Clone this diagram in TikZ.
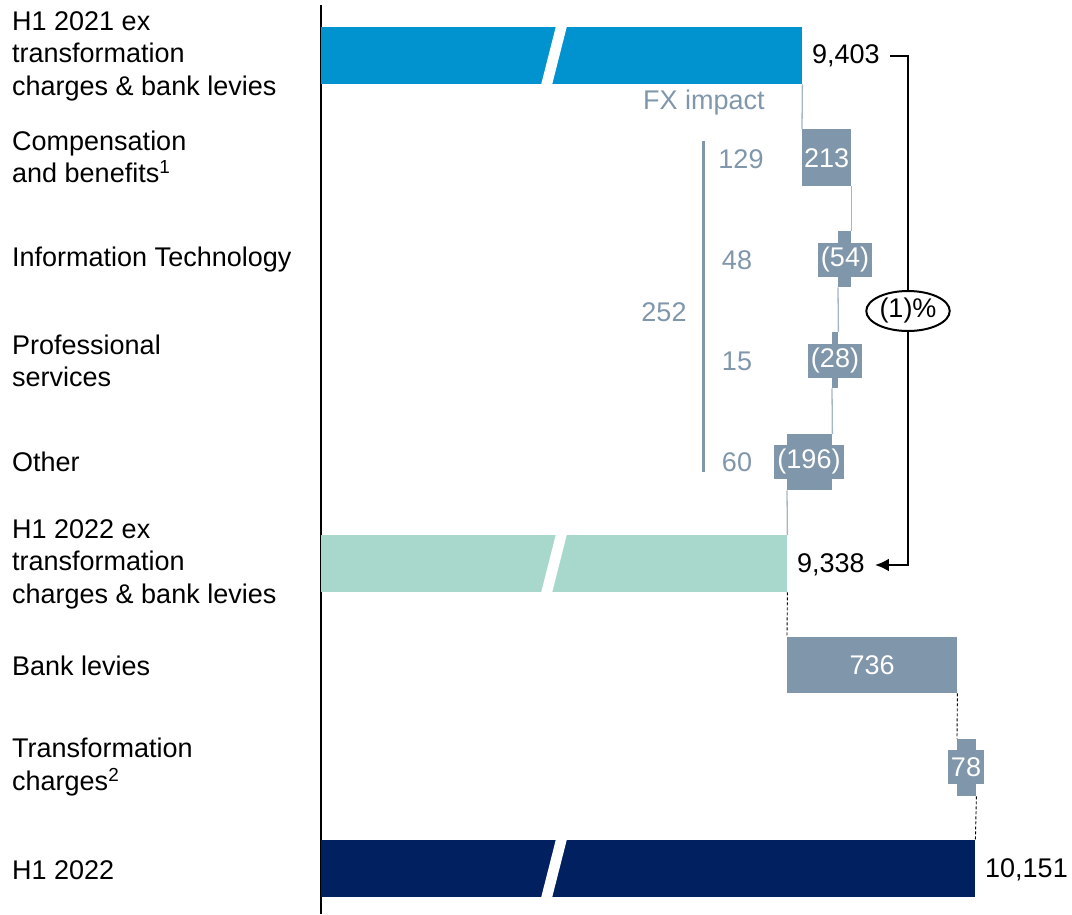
\documentclass[tikz,border=0pt]{standalone}
\usepackage{fontspec}
\setmainfont{Liberation Sans}
\usetikzlibrary{arrows.meta,shapes.geometric}
\definecolor{cblue}{RGB}{0,147,208}
\definecolor{cteal}{RGB}{168,216,204}
\definecolor{cnavy}{RGB}{0,32,96}
\definecolor{cgray}{RGB}{128,150,171}
\definecolor{cconn}{RGB}{165,182,200}
\begin{document}
\begin{tikzpicture}[x=1pt,y=-1pt,
  every node/.style={font=\fontsize{27}{32.5}\selectfont, inner sep=0pt},
  bar/.style={rectangle, anchor=north west, draw=none},
  lbl/.style={anchor=west, align=left, text=black},
  val/.style={anchor=west, text=black},
  fx/.style={text=cgray},
  chip/.style={fill=cgray, text=white, inner xsep=3pt, minimum height=34pt},
  conn/.style={draw=cconn, line width=1.3pt},
  dconn/.style={draw=black, line width=0.9pt, dash pattern=on 3pt off 2pt},
  brk/.style={fill=white, draw=none},
  bracket/.style={draw=black, line width=2.4pt}
]
\useasboundingbox (0,0) rectangle (1072,914);
% axis
\draw[line width=1.5pt] (321,5) -- (321,914);
% big bars
\node[bar, fill=cblue, minimum width=481pt, minimum height=57pt] (b0) at (321,27) {};
\node[bar, fill=cteal, minimum width=466pt, minimum height=57pt] (b5) at (321,535) {};
\node[bar, fill=cnavy, minimum width=654pt, minimum height=57pt] (b8) at (321,840) {};
\fill[brk] (556,26) -- (567,26) -- (552,85) -- (541,85) -- cycle;
\fill[brk] (556,534) -- (567,534) -- (552,593) -- (541,593) -- cycle;
\fill[brk] (556,839) -- (567,839) -- (552,898) -- (541,898) -- cycle;
% small bars
\node[bar, fill=cgray, minimum width=49pt, minimum height=57pt] (b1) at (802,129) {};
\node[bar, fill=cgray, minimum width=13pt, minimum height=56pt] (b2) at (838,231) {};
\node[bar, fill=cgray, minimum width=6pt, minimum height=56pt] (b3) at (832,332) {};
\node[bar, fill=cgray, minimum width=45pt, minimum height=56pt] (b4) at (787,434) {};
\node[bar, fill=cgray, minimum width=170pt, minimum height=56pt] (b6) at (787,637) {};
\node[bar, fill=cgray, minimum width=19pt, minimum height=57pt] (b7) at (957,739) {};
% chips
\node[text=white] (c1) at (b1.center) {213};
\node[chip] (c2) at (845,260) {(54)};
\node[chip] (c3) at (835,361) {(28)};
\node[chip] (c4) at (809,462) {(196)};
\node[text=white] (c6) at (b6.center) {736};
\node[chip] (c7) at (966,767) {78};
% connectors
\draw[conn] (b0.south east) -- (b1.north west);
\draw[conn] (b1.south east) -- (b2.north east);
\draw[conn] (b2.south west) -- (b3.north east);
\draw[conn] (b3.south west) -- (b4.north east);
\draw[conn] (b4.south west) -- (b5.north east);
\draw[dconn] (b5.south east) -- (b6.north west);
\draw[dconn] (b6.south east) -- (b7.north west);
\draw[dconn] (b7.south east) -- (b8.north east);
% left labels
\node[lbl] (l0) at (12,56) {H1 2021 ex\\transformation\\charges \& bank levies};
\node[lbl] (l1) at (12,157) {Compensation\\and benefits\textsuperscript{1}};
\node[lbl] (l2) at (12,260) {Information Technology};
\node[lbl] (l3) at (12,361) {Professional\\services};
\node[lbl] (l4) at (12,462) {Other};
\node[lbl] (l5) at (12,564) {H1 2022 ex\\transformation\\charges \& bank levies};
\node[lbl] (l6) at (12,666) {Bank levies};
\node[lbl] (l7) at (12,767) {Transformation\\charges\textsuperscript{2}};
\node[lbl] (l8) at (12,870) {H1 2022};
% values
\node[val] (v0) at (812,56) {9,403};
\node[val] (v5) at (797,565) {9,338};
\node[val] (v8) at (985,870) {10,151};
% FX impact
\node[fx] (fxh) at (704,103) {FX impact};
\draw[draw=cgray, line width=3pt] (703,141) -- (703,472);
\node[fx] (fx1) at (741,159) {129};
\node[fx] (fx2) at (737,260) {48};
\node[fx] (fx3) at (737,361) {15};
\node[fx] (fx4) at (737,462) {60};
\node[fx] (fxt) at (664,312) {252};
% bracket
\draw[bracket, -{Latex[length=14pt,width=13pt]}] ([xshift=10pt]v0.east) -- ++(18,0) |- ([xshift=10pt]v5.east);
\node[ellipse, draw=black, line width=2pt, fill=white, minimum width=78pt, minimum height=40pt, inner sep=1pt] (pct) at (908,311) {(1)\%};
\end{tikzpicture}
\end{document}
